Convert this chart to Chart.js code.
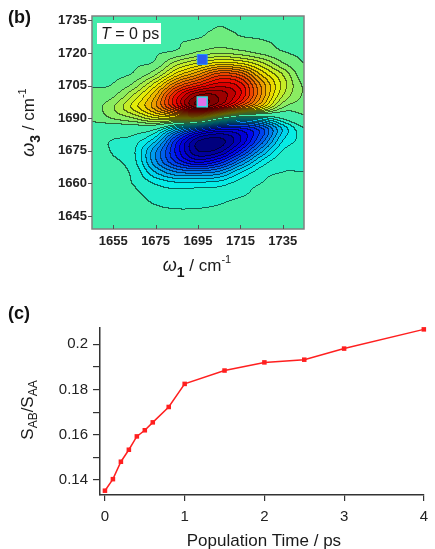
<!DOCTYPE html>
<html>
<head>
<meta charset="utf-8">
<script src="https://cdn.jsdelivr.net/npm/chart.js@4.4.1/dist/chart.umd.min.js"></script>
<style>
body { margin: 0; background: #fff; width: 435px; height: 549px; overflow: hidden; position: relative; font-family: "Liberation Sans", Arial, sans-serif; }
canvas { position: absolute; left: 0; }
#map { top: 0; }
#kin { top: 300px; }
.panel { position: absolute; left: 8px; font-weight: bold; font-size: 18px; color: #111; }
</style>
</head>
<body>
<canvas id="map" width="435" height="295"></canvas>
<canvas id="kin" width="435" height="249"></canvas>
<div class="panel" style="top:7px">(b)</div>
<div class="panel" style="top:303px">(c)</div>
<script>
/* ====== PANEL (b): 2D SPECTRUM, T = 0 ps ====== */
const w1Grid = [1645, 1655, 1665, 1675, 1685, 1695, 1705, 1715, 1725, 1735, 1745];
const w3Grid = [1640, 1645, 1650, 1655, 1660, 1665, 1670, 1675, 1680, 1685, 1690,
                1695, 1700, 1705, 1710, 1715, 1720, 1725, 1730, 1735, 1740];
// signal, one row per w3 value (bottom to top), columns follow w1Grid
const signal = [
  [0.00, -0.01, -0.02, -0.03, -0.03, -0.03, -0.03, -0.02, -0.02, -0.01, -0.01],
  [-0.01, -0.01, -0.03, -0.05, -0.055, -0.05, -0.045, -0.03, -0.03, -0.02, -0.01],
  [-0.01, -0.02, -0.04, -0.07, -0.08, -0.08, -0.07, -0.05, -0.04, -0.02, -0.02],
  [-0.02, -0.03, -0.055, -0.10, -0.11, -0.10, -0.10, -0.08, -0.05, -0.03, -0.03],
  [-0.02, -0.04, -0.075, -0.15, -0.20, -0.20, -0.18, -0.11, -0.07, -0.05, -0.05],
  [-0.03, -0.05, -0.09, -0.28, -0.42, -0.45, -0.40, -0.22, -0.10, -0.07, -0.07],
  [-0.04, -0.06, -0.12, -0.40, -0.65, -0.80, -0.70, -0.45, -0.20, -0.09, -0.09],
  [-0.05, -0.075, -0.13, -0.40, -0.72, -0.98, -0.95, -0.70, -0.38, -0.14, -0.11],
  [-0.04, -0.07, -0.10, -0.25, -0.65, -0.95, -1.00, -0.85, -0.55, -0.22, -0.12],
  [0.03, 0.00, 0.00, -0.05, -0.30, -0.55, -0.72, -0.72, -0.58, -0.27, -0.08],
  [0.085, 0.15, 0.22, 0.35, 0.40, 0.42, 0.08, -0.15, -0.15, -0.05, 0.05],
  [0.10, 0.20, 0.38, 0.60, 0.92, 1.22, 1.05, 0.72, 0.45, 0.15, 0.10],
  [0.09, 0.13, 0.30, 0.56, 0.95, 1.20, 1.18, 0.98, 0.62, 0.28, 0.13],
  [0.065, 0.075, 0.17, 0.40, 0.72, 0.90, 1.02, 0.95, 0.62, 0.33, 0.13],
  [0.06, 0.06, 0.08, 0.20, 0.45, 0.62, 0.80, 0.75, 0.48, 0.28, 0.09],
  [0.05, 0.06, 0.065, 0.085, 0.25, 0.36, 0.45, 0.42, 0.30, 0.15, 0.07],
  [0.05, 0.055, 0.06, 0.065, 0.085, 0.15, 0.20, 0.17, 0.12, 0.075, 0.06],
  [0.04, 0.05, 0.05, 0.055, 0.065, 0.08, 0.10, 0.085, 0.075, 0.06, 0.05],
  [0.03, 0.04, 0.04, 0.05, 0.055, 0.06, 0.075, 0.065, 0.06, 0.05, 0.04],
  [0.03, 0.03, 0.03, 0.04, 0.045, 0.05, 0.065, 0.055, 0.05, 0.045, 0.035],
  [0.02, 0.02, 0.03, 0.03, 0.04, 0.045, 0.05, 0.045, 0.04, 0.035, 0.03]
];
const w1Ticks = [1655, 1675, 1695, 1715, 1735];
const w3Ticks = [1645, 1660, 1675, 1690, 1705, 1720, 1735];
const markerW1 = [1697, 1697];
const markerW3 = [1717, 1697.5];

/* ====== PANEL (c): CROSS-PEAK RATIO ====== */
const popTime = [0, 0.1, 0.2, 0.3, 0.4, 0.5, 0.6, 0.8, 1, 1.5, 2, 2.5, 3, 4];
const ratio = [0.1353, 0.1404, 0.1481, 0.1534, 0.1593, 0.1620, 0.1655, 0.1723, 0.1825,
               0.1884, 0.1920, 0.1932, 0.1981, 0.2066];
const timeTicks = [0, 1, 2, 3, 4];
const ratioTicks = [0.14, 0.15, 0.16, 0.17, 0.18, 0.19, 0.2];
const ratioLabels = ["0.14", "", "0.16", "", "0.18", "", "0.2"];

const FONT = '"Liberation Sans", Arial, sans-serif';
const levelStep = 0.07;      // contour spacing
const colourMin = -1, colourMax = 1.25;

/* ========= helpers ========= */
function jet(t) {
    const c = v => Math.max(0, Math.min(1, v));
    return [c(1.5 - Math.abs(4 * t - 3)), c(1.5 - Math.abs(4 * t - 2)), c(1.5 - Math.abs(4 * t - 1))]
        .map(v => Math.round(v * 236));
}

function catmull(p0, p1, p2, p3, t) {
    return p1 + 0.5 * t * (p2 - p0 + t * (2 * p0 - 5 * p1 + 4 * p2 - p3 + t * (3 * (p1 - p2) + p3 - p0)));
}

function sampleSignal(w1, w3) {
    const nx = w1Grid.length, ny = w3Grid.length;
    const ci = (i, n) => Math.max(0, Math.min(n - 1, i));
    const fx = Math.max(0, Math.min(nx - 1, (w1 - w1Grid[0]) / (w1Grid[1] - w1Grid[0])));
    const fy = Math.max(0, Math.min(ny - 1, (w3 - w3Grid[0]) / (w3Grid[1] - w3Grid[0])));
    const ix = Math.min(Math.floor(fx), nx - 2), iy = Math.min(Math.floor(fy), ny - 2);
    const tx = fx - ix, ty = fy - iy;
    const col = [];
    for (let k = -1; k <= 2; k++) {
        const row = signal[ci(iy + k, ny)];
        col.push(catmull(row[ci(ix - 1, nx)], row[ix], row[ix + 1], row[ci(ix + 2, nx)], tx));
    }
    return catmull(col[0], col[1], col[2], col[3], ty);
}

function bandOf(v) {
    return v >= 0 ? Math.floor(v / levelStep) : -Math.floor(-v / levelStep);
}

function bandColour(k) {
    // positive bands take their middle value, negative bands their upper edge
    const mid = k > 0 ? (k + 0.5) * levelStep : k * levelStep;
    return jet((mid - colourMin) / (colourMax - colourMin));
}

// text made of runs (for sub/superscripts), centred on (x, y)
function drawRuns(ctx, runs, x, y, rotate) {
    ctx.save();
    ctx.translate(x, y);
    if (rotate) ctx.rotate(-Math.PI / 2);
    ctx.textAlign = "left";
    ctx.textBaseline = "alphabetic";
    ctx.fillStyle = "#1a1a1a";
    let total = 0;
    runs.forEach(r => { ctx.font = r.font; total += ctx.measureText(r.t).width; });
    let cx = -total / 2;
    runs.forEach(r => {
        ctx.font = r.font;
        ctx.fillText(r.t, cx, r.dy || 0);
        cx += ctx.measureText(r.t).width;
    });
    ctx.restore();
}

/* ========= contour map ========= */
const contourPlugin = {
    id: "contour",
    beforeDatasetsDraw(chart) {
        const { ctx, chartArea: a, scales: { x, y } } = chart;
        const left = Math.round(a.left), top = Math.round(a.top);
        const w = Math.round(a.right) - left, h = Math.round(a.bottom) - top;
        const xs = [], ys = [];
        for (let i = 0; i < w; i++) xs.push(x.getValueForPixel(left + i + 0.5));
        for (let j = 0; j < h; j++) ys.push(y.getValueForPixel(top + j + 0.5));
        const band = new Int16Array(w * h);
        for (let j = 0; j < h; j++)
            for (let i = 0; i < w; i++)
                band[j * w + i] = bandOf(sampleSignal(xs[i], ys[j]));

        const img = ctx.createImageData(w, h);
        const cache = {};
        for (let j = 0; j < h; j++) {
            for (let i = 0; i < w; i++) {
                const idx = j * w + i, k = band[idx];
                const c = cache[k] || (cache[k] = bandColour(k));
                const edge = (i < w - 1 && band[idx + 1] !== k) || (j < h - 1 && band[idx + w] !== k);
                const f = edge ? 0.42 : 1;
                img.data[idx * 4] = c[0] * f;
                img.data[idx * 4 + 1] = c[1] * f;
                img.data[idx * 4 + 2] = c[2] * f;
                img.data[idx * 4 + 3] = 255;
            }
        }
        const off = document.createElement("canvas");
        off.width = w; off.height = h;
        off.getContext("2d").putImageData(img, 0, 0);
        ctx.drawImage(off, left, top);
    },
    afterDraw(chart) {
        const { ctx, chartArea: a, scales: { x, y } } = chart;
        ctx.save();
        // time label box
        ctx.fillStyle = "#fff";
        ctx.fillRect(a.left + 5, a.top + 7, 64, 21);
        ctx.fillStyle = "#1a1a1a";
        ctx.font = "italic 16px " + FONT;
        ctx.fillText("T", a.left + 9, a.top + 23);
        const tw = ctx.measureText("T").width;
        ctx.font = "16px " + FONT;
        ctx.fillText(" = 0 ps", a.left + 9 + tw, a.top + 23);
        // frame + ticks
        ctx.strokeStyle = "#808080";
        ctx.lineWidth = 1.5;
        ctx.strokeRect(a.left, a.top, a.right - a.left, a.bottom - a.top);
        ctx.strokeStyle = "#555";
        ctx.lineWidth = 1;
        ctx.beginPath();
        w3Ticks.forEach(v => {
            const py = Math.round(y.getPixelForValue(v)) + 0.5;
            ctx.moveTo(a.left - 4, py); ctx.lineTo(a.left, py);
        });
        w1Ticks.forEach(v => {
            const px = Math.round(x.getPixelForValue(v)) + 0.5;
            ctx.moveTo(px, a.bottom); ctx.lineTo(px, a.bottom - 4);
            ctx.moveTo(px, a.top); ctx.lineTo(px, a.top + 4);
        });
        ctx.stroke();
        ctx.restore();

        const cx = (a.left + a.right) / 2, cy = (a.top + a.bottom) / 2;
        const axisRuns = sub => [
            { t: "\u03C9", font: "italic 18px " + FONT },
            { t: sub, font: "bold 14px " + FONT, dy: 6 },
            { t: " / cm", font: "17px " + FONT },
            { t: "-1", font: "11px " + FONT, dy: -8 }
        ];
        drawRuns(ctx, axisRuns("1"), cx - 1, 271, false);
        drawRuns(ctx, axisRuns("3"), 34, cy, true);
    }
};

const tickFont = { family: FONT, size: 13, weight: "bold" };

new Chart(document.getElementById("map"), {
    type: "scatter",
    data: {
        datasets: [
            { data: [{ x: markerW1[0], y: markerW3[0] }], pointStyle: "rect", pointRadius: 7,
              backgroundColor: "#2a5cf0", borderColor: "#2a90ff", borderWidth: 1 },
            { data: [{ x: markerW1[1], y: markerW3[1] }], pointStyle: "rect", pointRadius: 7,
              backgroundColor: "#e070e8", borderColor: "#30d8e0", borderWidth: 1.5 }
        ]
    },
    options: {
        responsive: false, animation: false, devicePixelRatio: 1,
        layout: { padding: { left: 0, top: 16, right: 131, bottom: 26 } },
        plugins: { legend: { display: false }, tooltip: { enabled: false } },
        scales: {
            x: {
                type: "linear", min: 1645, max: 1745,
                afterBuildTicks: s => { s.ticks = w1Ticks.map(v => ({ value: v })); },
                afterFit: s => { s.height = 40; },
                grid: { display: false, drawTicks: false, tickLength: 0 }, border: { display: false },
                ticks: { font: tickFont, color: "#222", padding: 5, maxRotation: 0, autoSkip: false,
                         callback: v => String(v) }
            },
            y: {
                type: "linear", min: 1639, max: 1737,
                afterBuildTicks: s => { s.ticks = w3Ticks.map(v => ({ value: v })); },
                afterFit: s => { s.width = 92; },
                grid: { display: false, drawTicks: false, tickLength: 0 }, border: { display: false },
                ticks: { font: tickFont, color: "#222", padding: 5, autoSkip: false,
                         callback: v => String(v) }
            }
        }
    },
    plugins: [contourPlugin]
});

/* ========= panel (c) ========= */
const titlesC = {
    id: "titlesC",
    afterDraw(chart) {
        const { ctx, chartArea: a } = chart;
        drawRuns(ctx, [{ t: "Population Time / ps", font: "17px " + FONT }], (a.left + a.right) / 2 + 2, 246, false);
        drawRuns(ctx, [
            { t: "S", font: "17px " + FONT },
            { t: "AB", font: "12px " + FONT, dy: 4 },
            { t: "/S", font: "17px " + FONT },
            { t: "AA", font: "12px " + FONT, dy: 4 }
        ], 33, 110, true);
    }
};

new Chart(document.getElementById("kin"), {
    type: "scatter",
    data: {
        datasets: [{
            data: popTime.map((t, i) => ({ x: t, y: ratio[i] })),
            showLine: true, borderColor: "#ff1f1f", backgroundColor: "#ff1f1f",
            borderWidth: 1.5, pointStyle: "rect", pointRadius: 3.2, pointBorderWidth: 0, clip: false
        }]
    },
    options: {
        responsive: false, animation: false, devicePixelRatio: 1,
        layout: { padding: { left: 0, top: 28, right: 7, bottom: 14 } },
        plugins: { legend: { display: false }, tooltip: { enabled: false } },
        scales: {
            x: {
                type: "linear", min: -0.062, max: 4,
                afterBuildTicks: s => { s.ticks = timeTicks.map(v => ({ value: v })); },
                afterFit: s => { s.height = 40; },
                grid: { drawOnChartArea: false, tickLength: 6, color: "#333", lineWidth: 1.2 },
                border: { color: "#333", width: 1.5 },
                ticks: { font: { family: FONT, size: 15 }, color: "#222", padding: 7, maxRotation: 0, autoSkip: false }
            },
            y: {
                type: "linear", min: 0.1334, max: 0.2072,
                afterBuildTicks: s => { s.ticks = ratioTicks.map(v => ({ value: v })); },
                afterFit: s => { s.width = 100; },
                grid: { drawOnChartArea: false, tickLength: 7, color: "#333", lineWidth: 1.2 },
                border: { color: "#333", width: 1.5 },
                ticks: { font: { family: FONT, size: 15 }, color: "#222", padding: 5, autoSkip: false,
                         callback: (v, i) => ratioLabels[i] }
            }
        }
    },
    plugins: [titlesC]
});
</script>
</body>
</html>
